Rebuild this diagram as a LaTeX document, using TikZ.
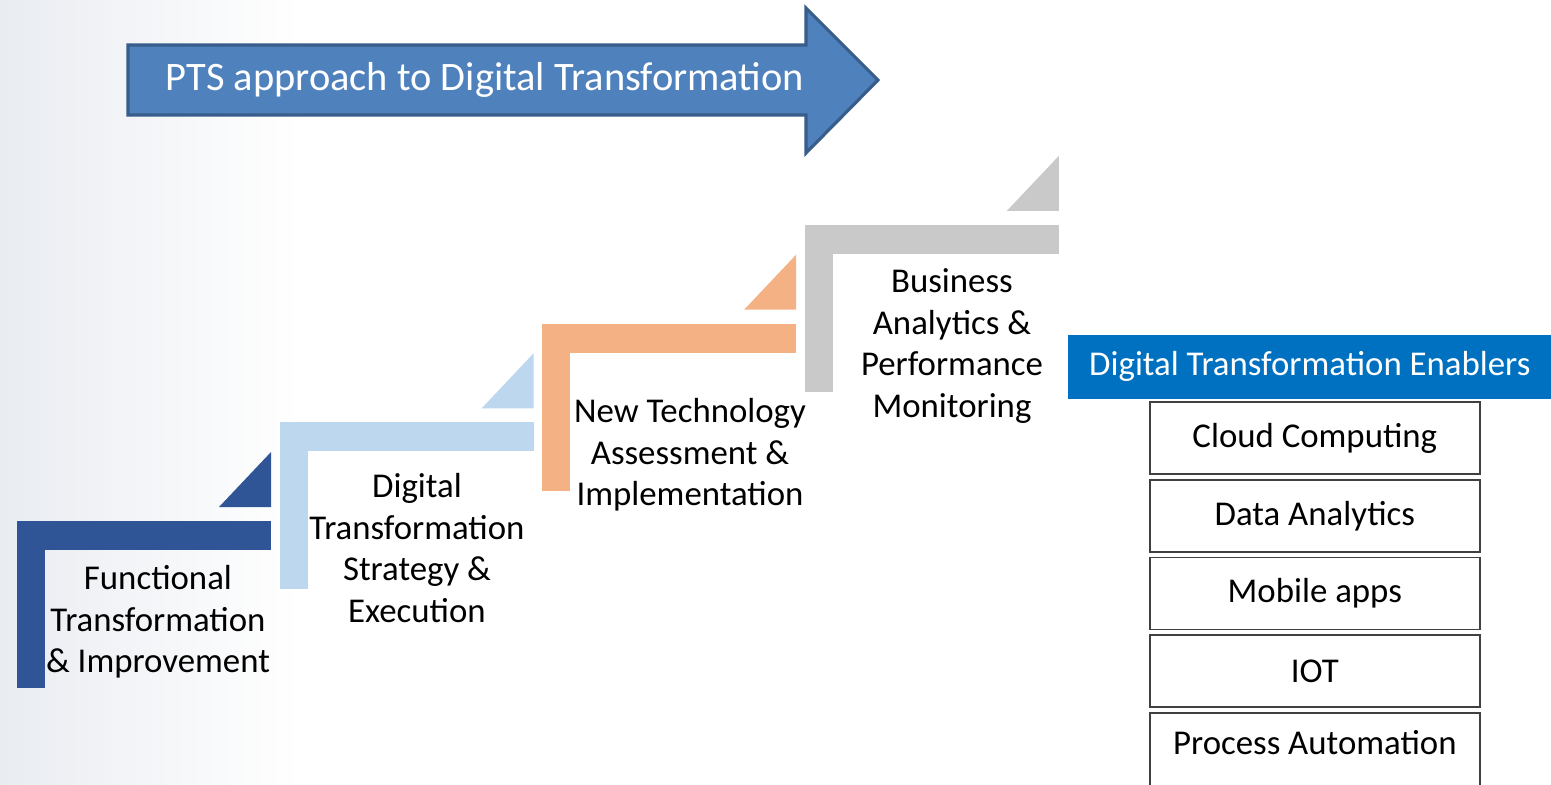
\documentclass[tikz,border=0pt]{standalone}
\usepackage{fontspec}
\setmainfont{Carlito}
\usetikzlibrary{calc, positioning}
\definecolor{bgtint}{RGB}{233,236,241}
\definecolor{arrowblue}{RGB}{79,129,189}
\definecolor{arrowedge}{RGB}{56,93,138}
\definecolor{stepone}{RGB}{47,85,151}
\definecolor{steptwo}{RGB}{189,215,238}
\definecolor{stepthree}{RGB}{244,177,131}
\definecolor{stepfour}{RGB}{201,201,201}
\definecolor{enablerblue}{RGB}{0,112,192}
\definecolor{boxedge}{RGB}{64,64,64}

\begin{document}
\begin{tikzpicture}[x=0.01cm, y=-0.01cm]
      % Styles
      \tikzset{steplabel/.style={align=center, font=\fontsize{9.9}{11.8}\selectfont}}
      \tikzset{enabler_head/.style={fill=enablerblue, text=white, minimum width=4.84cm, minimum height=0.64cm, inner sep=0pt, font=\fontsize{9.9}{11.8}\selectfont}}
      \tikzset{enabler/.style={draw=boxedge, line width=0.45pt, fill=white, minimum width=3.3cm, minimum height=0.72cm, inner sep=0pt, font=\fontsize{9.9}{11.8}\selectfont}}

      % --- Frame and faint background ---
      \clip (0,0) rectangle (1551,784);
      \shade[left color=bgtint, right color=white] (0,0) rectangle (300,784);

      % --- Big arrow at the top ---
      \draw[fill=arrowblue, draw=arrowedge, line width=0.9pt]
        (128,45) -- (806,45) -- (806,8) -- (878,80) -- (806,153) -- (806,115) -- (128,115) -- cycle;
      \node[text=white, font=\fontsize{11.5}{13.8}\selectfont] (title) at (485,80) {PTS approach to Digital Transformation};

      % --- The four steps (L shape + small triangle) ---
      \foreach \i/\col in {0/stepone, 1/steptwo, 2/stepthree, 3/stepfour} {
        \pgfmathsetmacro{\sx}{17+262.6*\i}
        \pgfmathsetmacro{\sy}{521-98.7*\i}
        \fill[\col] (\sx,\sy) rectangle ++(254,29);
        \fill[\col] (\sx,\sy) rectangle ++(28,167);
        \fill[\col] (\sx+202,\sy-14) -- ++(52,0) -- ++(0,-55) -- cycle;
      }

      % Step labels
      \node[steplabel] (functional) at (158,622) {Functional\\Transformation\\\& Improvement};
      \node[steplabel] (strategy) at (417,548) {Digital\\Transformation\\Strategy \&\\Execution};
      \node[steplabel] (newtech) at (690,455) {New Technology\\Assessment \&\\Implementation};
      \node[steplabel] (analytics) at (952,346) {Business\\Analytics \&\\Performance\\Monitoring};

      % --- Enablers on the right ---
      \node[enabler_head, anchor=north west] (enablers) at (1067,334) {Digital Transformation Enablers};
      \node[enabler, below=0.02cm of enablers, xshift=0.05cm] (cloud) {Cloud Computing};
      \node[enabler, below=0.04cm of cloud] (data) {Data Analytics};
      \node[enabler, below=0.04cm of data] (mobile) {Mobile apps};
      \node[enabler, below=0.04cm of mobile] (iot) {IOT};
      % last box runs off the bottom edge
      \node[enabler, below=0.04cm of iot, minimum height=0.8cm, text depth=0.2cm] (automation) {Process Automation};

    \end{tikzpicture}
\end{document}
